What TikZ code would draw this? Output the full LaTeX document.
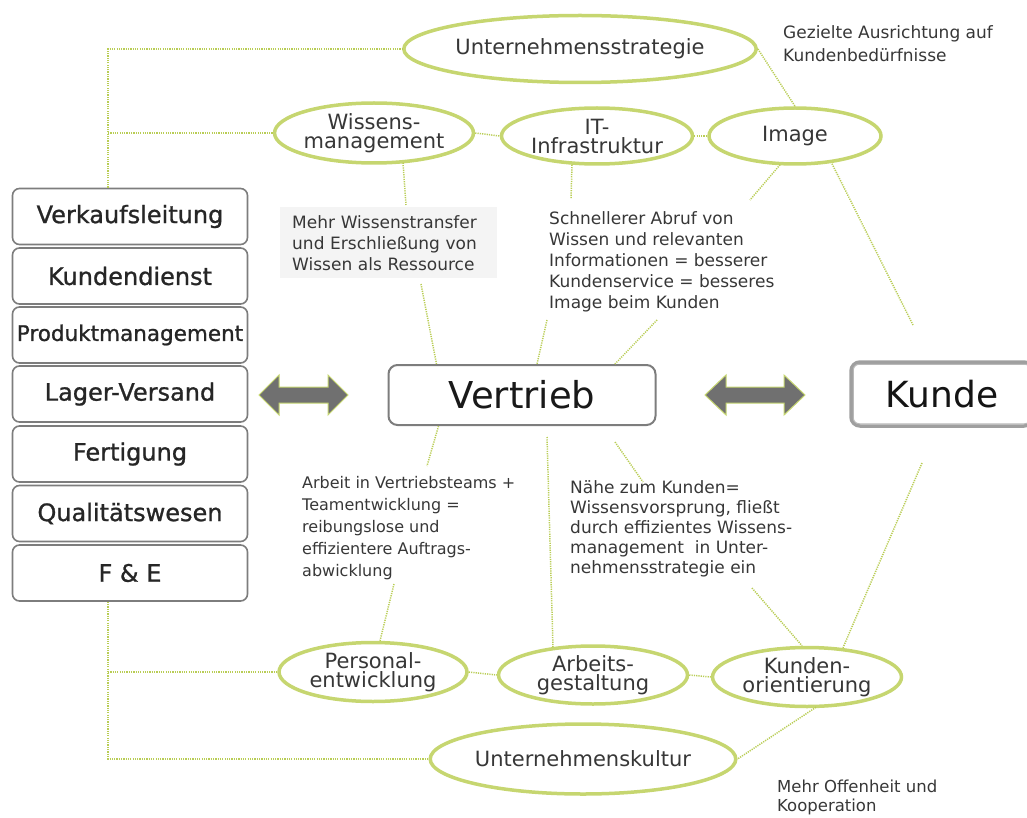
\documentclass[tikz,border=0pt]{standalone}
\usepackage{fontspec}
\setmainfont{DejaVu Sans}
\newfontfamily\heavy[FakeBold=1]{DejaVu Sans}
\usetikzlibrary{shapes.geometric,calc}
\definecolor{ovalgreen}{RGB}{198,214,112}
\definecolor{linegreen}{RGB}{185,205,85}
\definecolor{txt}{RGB}{55,55,55}
\definecolor{boxline}{RGB}{125,125,125}
\definecolor{arrowgrey}{RGB}{112,112,112}
\definecolor{notebg}{RGB}{244,244,244}
\begin{document}
\begin{tikzpicture}[x=1pt,y=-1pt,
  oval/.style={ellipse, draw=ovalgreen, line width=3.5pt, fill=white, inner sep=0pt, text=txt, align=center, font=\fontsize{21}{19}\selectfont},
  stackbox/.style={draw=boxline, line width=1.6pt, rounded corners=7pt, fill=white, minimum width=235pt, minimum height=56pt, inner sep=0pt, text=black!85, font=\heavy\fontsize{24}{28}\selectfont},
  note/.style={anchor=north west, align=left, inner sep=0pt, text=txt, font=\fontsize{17}{21}\selectfont},
  conn/.style={draw=linegreen, line width=1.5pt, dash pattern=on 1.2pt off 1.1pt},
  bigarrow/.style={fill=arrowgrey, draw=ovalgreen, line width=1pt, line join=miter}
]
\useasboundingbox (0,0) rectangle (1027,818);

% ellipses
\node[oval, minimum width=304pt, minimum height=67pt] (ustrat) at (580,49) {Unternehmensstrategie};
\node[oval, minimum width=190pt, minimum height=60pt] (wiss) at (374,133) {Wissens-\\management};
\node[oval, minimum width=191pt, minimum height=56pt] (it) at (597,136) {IT-\\Infrastruktur};
\node[oval, minimum width=172pt, minimum height=56pt] (img) at (795,136) {Image};
\node[oval, minimum width=188pt, minimum height=59pt] (pers) at (373,672) {Personal-\\entwicklung};
\node[oval, minimum width=189pt, minimum height=58pt] (arb) at (593,675) {Arbeits-\\gestaltung};
\node[oval, minimum width=189pt, minimum height=59pt] (kor) at (807,677) {Kunden-\\orientierung};
\node[oval, minimum width=299pt, minimum height=70pt] (ukult) at (583,759) {Unternehmenskultur};

% left stack
\node[stackbox] (s1) at (130,216.5) {Verkaufsleitung};
\node[stackbox] (s2) at (130,276) {Kundendienst};
\node[stackbox, font=\heavy\fontsize{21.5}{26}\selectfont] (s3) at (130,335) {Produktmanagement};
\node[stackbox] (s4) at (130,394) {Lager-Versand};
\node[stackbox] (s5) at (130,454) {Fertigung};
\node[stackbox] (s6) at (130,513.5) {Qualitätswesen};
\node[stackbox] (s7) at (130,573) {F \& E};

% centre boxes
\node[draw=boxline, line width=2pt, rounded corners=9pt, fill=white, minimum width=267pt, minimum height=60pt, inner sep=0pt, text=black!90, font=\fontsize{37}{40}\selectfont] (vert) at (522,395) {Vertrieb};
\node[draw=gray!75, line width=3.5pt, rounded corners=9pt, fill=white, minimum width=182pt, minimum height=64pt, inner sep=0pt, text=black!92, font=\fontsize{36}{40}\selectfont] (kunde) at (942,394) {Kunde};
\draw[gray!55, line width=1pt, rounded corners=6pt] ($(kunde.north west)+(4,4)$) rectangle ($(kunde.south east)+(-4,-4)$);

% double arrows
\draw[bigarrow] (259,395) -- (279,375) -- (279,387) -- (328,387) -- (328,375) -- (348,395) -- (328,415) -- (328,403) -- (279,403) -- (279,415) -- cycle;
\draw[bigarrow] (705,395) -- (726,375) -- (726,387) -- (784,387) -- (784,375) -- (805,395) -- (784,415) -- (784,403) -- (726,403) -- (726,415) -- cycle;

% notes
\node[note, fill=notebg, inner xsep=12pt, inner ysep=8pt, text width=193pt] (wt) at (280,207) {Mehr Wissenstransfer\\und Erschließung von\\Wissen als Ressource};
\node[note] (sa) at (549,211) {Schnellerer Abruf von\\Wissen und relevanten\\Informationen = besserer\\Kundenservice = besseres\\Image beim Kunden};
\node[note, font=\fontsize{16}{22}\selectfont] (ar) at (302,476) {Arbeit in Vertriebsteams +\\Teamentwicklung =\\reibungslose und\\effizientere Auftrags-\\abwicklung};
\node[note, font=\fontsize{17}{20}\selectfont] (nz) at (570,480) {Nähe zum Kunden=\\Wissensvorsprung, fließt\\durch effizientes Wissens-\\management~ in Unter-\\nehmensstrategie ein};
\node[note, font=\fontsize{17}{23}\selectfont] (gz) at (783,25) {Gezielte Ausrichtung auf\\Kundenbedürfnisse};
\node[note, font=\fontsize{16.5}{18.5}\selectfont] (mo) at (777,780) {Mehr Offenheit und\\Kooperation};

% coordinates
\coordinate (tl) at (108,49);
\coordinate (tw) at (108,133);
\coordinate (bm) at (108,672);
\coordinate (bl) at (108,759);
\coordinate (c1) at (406,205);
\coordinate (c2) at (421,284);
\coordinate (c3) at (571,199);
\coordinate (c4) at (750,200);
\coordinate (c5) at (913,325);
\coordinate (c6) at (547,320);
\coordinate (c7) at (657,320);
\coordinate (c8) at (427,466);
\coordinate (c9) at (394,584);
\coordinate (c10) at (547,437);
\coordinate (c11) at (615,442);
\coordinate (c12) at (643,482);
\coordinate (c13) at (752,588);
\coordinate (c14) at (922,463);

% connectors
\draw[conn] (s1.north -| tl) -- (tl) -- (ustrat.west);
\draw[conn] (tw) -- (wiss.west);
\draw[conn] (s7.south -| bl) -- (bl) -- (ukult.west);
\draw[conn] (bm) -- (pers.west);
\draw[conn] (wiss.east) -- (it.west);
\draw[conn] (it.east) -- (img.west);
\draw[conn] (pers.east) -- (arb.west);
\draw[conn] (arb.east) -- (kor.west);
\draw[conn] (ustrat.east) -- (img.north);
\draw[conn] ($(wiss.south)+(29,-2)$) -- (c1);
\draw[conn] (c2) -- ($(vert.north west)+(49,0)$);
\draw[conn] ($(it.south)+(-25,-1)$) -- (c3);
\draw[conn] ($(img.south)+(-15,-1)$) -- (c4);
\draw[conn] ($(img.south)+(37,-2)$) -- (c5);
\draw[conn] (c6) -- ($(vert.north)+(15,0)$);
\draw[conn] (c7) -- ($(vert.north)+(93,0)$);
\draw[conn] ($(vert.south west)+(51,0)$) -- (c8);
\draw[conn] (c9) -- ($(pers.north)+(7,0)$);
\draw[conn] (c10) -- ($(arb.north)+(-40,3)$);
\draw[conn] (c11) -- (c12);
\draw[conn] (c13) -- ($(kor.north)+(-5,0)$);
\draw[conn] (c14) -- ($(kor.north)+(36,2)$);
\draw[conn] ($(kor.south)+(9,-1)$) -- (ukult.east);
\end{tikzpicture}
\end{document}
